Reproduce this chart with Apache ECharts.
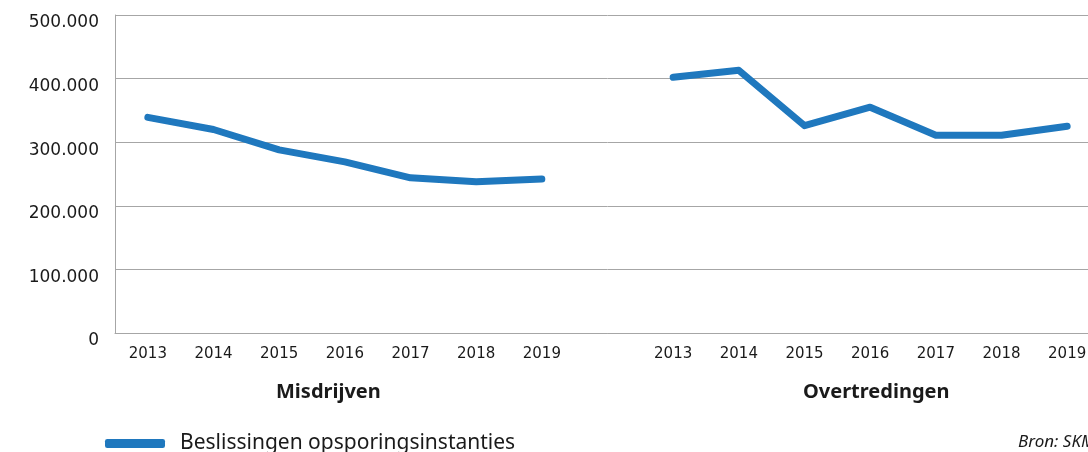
<!DOCTYPE html>
<html>
<head>
<meta charset="utf-8">
<script src="https://cdn.jsdelivr.net/npm/echarts@6/dist/echarts.min.js"></script>
<style>
  html, body { margin: 0; padding: 0; background: #fff; overflow: hidden; }
  #chart { width: 1110px; height: 452px; }
</style>
</head>
<body>
<div id="chart"></div>
<script>
// categorieën: twee blokken jaren met een lege kolom ertussen
var years = ["2013", "2014", "2015", "2016", "2017", "2018", "2019"];
var categories = years.concat([""], years);
var misdrijven = [339000, 320000, 288000, 269000, 244000, 238000, 242000];
var overtredingen = [402000, 413000, 326000, 355000, 311000, 311000, 325000];
var groupLabels = ["Misdrijven", "Overtredingen"];
var seriesName = "Beslissingen opsporingsinstanties";
var bron = "Bron: SKM";

var values = misdrijven.concat(["-"], overtredingen);

var myChart = echarts.init(document.getElementById("chart"));
var axisGray = "#a6a6a6";
var textColor = "#1a1a1a";

myChart.setOption({
  animation: false,
  grid: {
    left: 115,
    top: 15,
    width: 985,
    height: 318
  },
  legend: {
    left: 105,
    top: 433,
    padding: 0,
    icon: "roundRect",
    itemWidth: 60,
    itemHeight: 9,
    data: [seriesName],
    textStyle: {
      fontFamily: "Noto Sans",
      fontSize: 21,
      color: textColor,
      padding: [0, 0, 0, 10]
    }
  },
  xAxis: {
    type: "category",
    data: categories,
    boundaryGap: true,
    axisLine: { lineStyle: { color: axisGray, width: 1 } },
    axisTick: { length: 8, lineStyle: { color: axisGray } },
    axisLabel: {
      interval: 0,
      margin: 14,
      fontFamily: "DejaVu Sans",
      fontSize: 15,
      color: textColor
    }
  },
  yAxis: {
    type: "value",
    min: 0,
    max: 500000,
    interval: 100000,
    axisLine: { show: true, lineStyle: { color: axisGray } },
    axisTick: { show: false },
    splitLine: { lineStyle: { color: axisGray, width: 1 } },
    axisLabel: {
      margin: 16,
      verticalAlign: "top",
      lineHeight: 16,
      fontFamily: "DejaVu Sans",
      fontSize: 17,
      color: textColor,
      formatter: function(val) {
        if (val === 0) return "0";
        return (val / 1000).toFixed(0) + ".000";
      }
    }
  },
  series: [
    {
      name: seriesName,
      type: "line",
      data: values,
      connectNulls: false,
      showSymbol: false,
      symbol: "none",
      color: "#1f78be",
      lineStyle: { color: "#1f78be", width: 7, cap: "round", join: "round" }
    }
  ],
  graphic: [
    {
      type: "text",
      left: 276,
      top: 382,
      style: {
        text: groupLabels[0],
        font: "bold 20px 'Noto Sans'",
        fill: textColor
      }
    },
    {
      type: "text",
      left: 803,
      top: 382,
      style: {
        text: groupLabels[1],
        font: "bold 20px 'Noto Sans'",
        fill: textColor
      }
    },
    {
      type: "text",
      left: 1018,
      top: 434,
      style: {
        text: bron,
        font: "italic 17px 'Noto Sans'",
        fill: textColor
      }
    }
  ]
});
</script>
</body>
</html>
